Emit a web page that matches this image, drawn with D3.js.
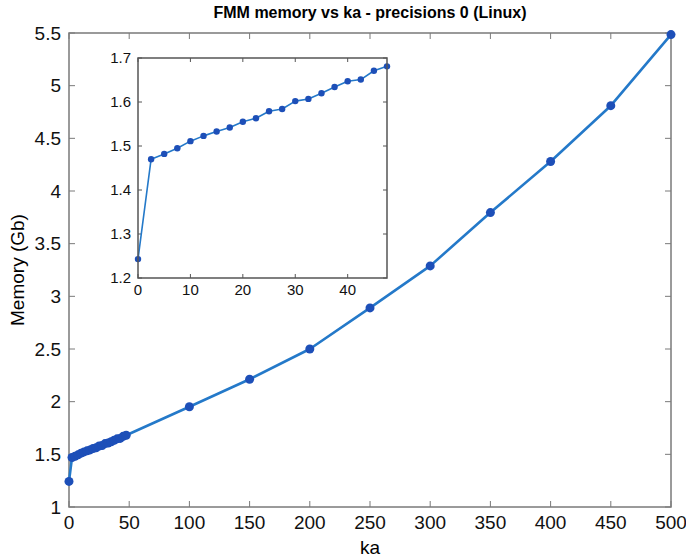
<!DOCTYPE html>
<html>
<head>
<meta charset="utf-8">
<script src="https://cdn.jsdelivr.net/npm/d3@7"></script>
<style>
  body { margin: 0; background: #fff; }
  svg { display: block; font-family: "Liberation Sans", Arial, Helvetica, sans-serif; }
</style>
</head>
<body>
<svg id="chart" width="686" height="560"></svg>
<script>
// --- data ---
const kaSmall = [0, 2.5, 5, 7.5, 10, 12.5, 15, 17.5, 20, 22.5, 25, 27.5, 30, 32.5, 35, 37.5, 40, 42.5, 45, 47.5];
const memSmall = [1.243, 1.470, 1.482, 1.495, 1.511, 1.523, 1.533, 1.542, 1.555, 1.563,
                  1.579, 1.584, 1.602, 1.607, 1.620, 1.634, 1.647, 1.651, 1.671, 1.681];
const kaLarge = [100, 150, 200, 250, 300, 350, 400, 450, 500];
const memLarge = [1.952, 2.213, 2.50, 2.89, 3.289, 3.795, 4.28, 4.81, 5.485];

const mainXTicks = [0, 50, 100, 150, 200, 250, 300, 350, 400, 450, 500];
const mainYTicks = [1, 1.5, 2, 2.5, 3, 3.5, 4, 4.5, 5, 5.5];
const insetXTicks = [0, 10, 20, 30, 40];
const insetYTicks = [1.2, 1.3, 1.4, 1.5, 1.6, 1.7];

const LINE = "#2479c9";
const DOT = "#1d4fb8";

const svg = d3.select("#chart");

// Draws a MATLAB-style boxed axes with inward ticks on all four sides
function drawAxes(g, x, y, xt, yt, opts) {
  const [x0, x1] = x.range();
  const [y0, y1] = y.range(); // y0 bottom, y1 top
  const tl = opts.tick;

  g.append("rect")
    .attr("x", x0).attr("y", y1)
    .attr("width", x1 - x0).attr("height", y0 - y1)
    .attr("fill", "#fff");

  const ticks = g.append("g").attr("stroke", opts.color).attr("stroke-width", 1);
  xt.forEach(t => {
    ticks.append("line").attr("x1", x(t)).attr("x2", x(t)).attr("y1", y0).attr("y2", y0 - tl);
    ticks.append("line").attr("x1", x(t)).attr("x2", x(t)).attr("y1", y1).attr("y2", y1 + tl);
  });
  yt.forEach(t => {
    ticks.append("line").attr("x1", x0).attr("x2", x0 + tl).attr("y1", y(t)).attr("y2", y(t));
    ticks.append("line").attr("x1", x1).attr("x2", x1 - tl).attr("y1", y(t)).attr("y2", y(t));
  });

  g.selectAll(null).data(xt).enter().append("text")
    .attr("x", d => x(d)).attr("y", y0 + opts.xLabelDy)
    .attr("text-anchor", "middle")
    .attr("font-size", opts.font).attr("fill", "#111")
    .text(d => d);
  g.selectAll(null).data(yt).enter().append("text")
    .attr("x", x0 - opts.yLabelDx).attr("y", d => y(d))
    .attr("dy", "0.35em")
    .attr("text-anchor", "end")
    .attr("font-size", opts.font).attr("fill", "#111")
    .text(d => d);
}

function drawSeries(g, x, y, xs, ys, lw, r) {
  const pts = xs.map((v, i) => [v, ys[i]]);
  g.append("path")
    .datum(pts)
    .attr("fill", "none")
    .attr("stroke", LINE)
    .attr("stroke-width", lw)
    .attr("stroke-linejoin", "round")
    .attr("d", d3.line().x(d => x(d[0])).y(d => y(d[1])));
  g.selectAll(null).data(pts).enter().append("circle")
    .attr("cx", d => x(d[0])).attr("cy", d => y(d[1]))
    .attr("r", r).attr("fill", DOT);
}

// --- main axes ---
const x = d3.scaleLinear().domain([0, 500]).range([69, 671]);
const y = d3.scaleLinear().domain([1, 5.5]).range([507, 33]);
const main = svg.append("g");
drawAxes(main, x, y, mainXTicks, mainYTicks, { tick: 6, color: "#7a7a7a", font: 19, xLabelDy: 22, yLabelDx: 8 });

main.append("rect")
  .attr("x", 69).attr("y", 33).attr("width", 602).attr("height", 474)
  .attr("fill", "none").attr("stroke", "#7a7a7a").attr("stroke-width", 1.5);

drawSeries(main, x, y, kaSmall.concat(kaLarge), memSmall.concat(memLarge), 2.6, 4.5);

main.append("text")
  .attr("x", 370).attr("y", 18)
  .attr("text-anchor", "middle")
  .attr("font-size", 16).attr("font-weight", "bold")
  .text("FMM memory vs ka - precisions 0 (Linux)");

main.append("text")
  .attr("x", 370).attr("y", 554)
  .attr("text-anchor", "middle")
  .attr("font-size", 19)
  .text("ka");

main.append("text")
  .attr("transform", "translate(24,270) rotate(-90)")
  .attr("text-anchor", "middle")
  .attr("font-size", 19)
  .text("Memory (Gb)");

// --- inset axes ---
const xi = d3.scaleLinear().domain([0, 47.5]).range([138, 387]);
const yi = d3.scaleLinear().domain([1.2, 1.7]).range([278, 58]);
const inset = svg.append("g");
drawAxes(inset, xi, yi, insetXTicks, insetYTicks, { tick: 4, color: "#555", font: 15, xLabelDy: 17, yLabelDx: 7 });
drawSeries(inset, xi, yi, kaSmall, memSmall, 1.6, 3.2);
inset.append("rect")
  .attr("x", 138).attr("y", 58).attr("width", 249).attr("height", 220)
  .attr("fill", "none").attr("stroke", "#555").attr("stroke-width", 1.5);
</script>
</body>
</html>
